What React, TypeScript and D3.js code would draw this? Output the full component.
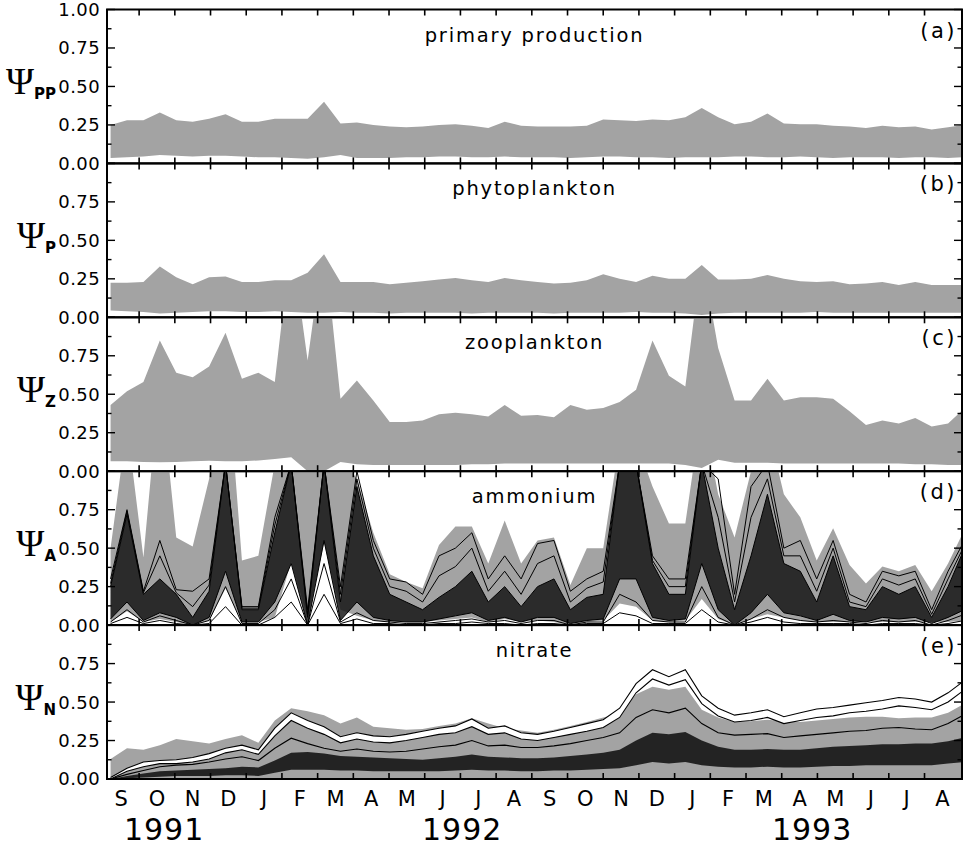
import React from 'react';
import * as d3 from 'd3';

// x axis: months Sep 1991 .. Aug 1993
const MONTHS = ['S', 'O', 'N', 'D', 'J', 'F', 'M', 'A', 'M', 'J', 'J', 'A', 'S', 'O', 'N', 'D', 'J', 'F', 'M', 'A', 'M', 'J', 'J', 'A'];
const YEARS = ['1991', '1992', '1993'];
const YEAR_AT = [1.7, 10.05, 19.85]; // month index under which the year sits

// fortnightly samples, expressed in months after 1 Sep 1991
const FIRST_SAMPLE = 0.2;
const SAMPLE_STEP = 0.46;

// (a) primary production, envelope
const ppHi = [0.25, 0.28, 0.28, 0.33, 0.28, 0.27, 0.29, 0.32, 0.27, 0.27, 0.29, 0.29, 0.29, 0.40, 0.26, 0.265, 0.25, 0.24, 0.235, 0.24, 0.25, 0.255, 0.245, 0.23, 0.27, 0.245, 0.24, 0.24, 0.24, 0.245, 0.285, 0.28, 0.275, 0.285, 0.28, 0.30, 0.36, 0.30, 0.255, 0.27, 0.325, 0.26, 0.255, 0.255, 0.245, 0.24, 0.23, 0.245, 0.235, 0.24, 0.22, 0.235, 0.25];
const ppLo = [0.035, 0.04, 0.045, 0.055, 0.05, 0.045, 0.05, 0.05, 0.045, 0.04, 0.04, 0.035, 0.03, 0.04, 0.055, 0.035, 0.035, 0.035, 0.04, 0.04, 0.045, 0.045, 0.04, 0.04, 0.045, 0.04, 0.04, 0.04, 0.035, 0.04, 0.045, 0.045, 0.04, 0.04, 0.035, 0.04, 0.04, 0.04, 0.045, 0.045, 0.04, 0.04, 0.045, 0.04, 0.035, 0.04, 0.04, 0.04, 0.035, 0.04, 0.04, 0.035, 0.04];

// (b) phytoplankton
const pHi = [0.225, 0.225, 0.23, 0.33, 0.26, 0.215, 0.26, 0.265, 0.23, 0.23, 0.24, 0.24, 0.29, 0.41, 0.23, 0.23, 0.23, 0.215, 0.225, 0.235, 0.245, 0.255, 0.24, 0.23, 0.255, 0.24, 0.23, 0.22, 0.225, 0.24, 0.28, 0.25, 0.23, 0.27, 0.25, 0.25, 0.34, 0.245, 0.245, 0.25, 0.275, 0.25, 0.235, 0.23, 0.235, 0.215, 0.22, 0.23, 0.21, 0.23, 0.21, 0.21, 0.21];
const pLo = [0.045, 0.04, 0.035, 0.025, 0.03, 0.035, 0.04, 0.04, 0.035, 0.035, 0.04, 0.035, 0.03, 0.03, 0.035, 0.03, 0.03, 0.025, 0.03, 0.03, 0.03, 0.03, 0.025, 0.03, 0.03, 0.03, 0.03, 0.025, 0.03, 0.03, 0.03, 0.03, 0.035, 0.03, 0.03, 0.025, 0.015, 0.025, 0.03, 0.03, 0.03, 0.03, 0.03, 0.035, 0.03, 0.03, 0.03, 0.03, 0.03, 0.03, 0.03, 0.03, 0.03];

// (c) zooplankton
const zHi = [0.43, 0.52, 0.58, 0.85, 0.64, 0.61, 0.68, 0.9, 0.60, 0.64, 0.58, 1.5, 0.72, 1.5, 0.47, 0.59, 0.46, 0.32, 0.32, 0.33, 0.37, 0.38, 0.37, 0.355, 0.43, 0.36, 0.365, 0.35, 0.43, 0.40, 0.41, 0.45, 0.53, 0.85, 0.62, 0.55, 1.4, 0.8, 0.46, 0.46, 0.60, 0.46, 0.48, 0.48, 0.47, 0.39, 0.30, 0.33, 0.31, 0.345, 0.29, 0.31, 0.41];
const zLo = [0.065, 0.065, 0.06, 0.058, 0.06, 0.065, 0.068, 0.065, 0.065, 0.07, 0.08, 0.09, 0.0, 0.0, 0.06, 0.045, 0.04, 0.04, 0.04, 0.04, 0.04, 0.04, 0.045, 0.045, 0.05, 0.05, 0.05, 0.05, 0.05, 0.05, 0.05, 0.05, 0.05, 0.05, 0.05, 0.04, 0.02, 0.075, 0.055, 0.055, 0.055, 0.05, 0.05, 0.05, 0.05, 0.05, 0.05, 0.05, 0.05, 0.045, 0.045, 0.04, 0.04];

// (d) ammonium: envelope, dense bundle of runs, single runs
const aHi = [0.50, 1.3, 0.44, 1.6, 0.57, 0.51, 0.95, 1.8, 0.42, 0.45, 1.05, 1.4, 1.1, 1.4, 1.1, 0.95, 0.6, 0.33, 0.28, 0.24, 0.52, 0.64, 0.64, 0.40, 0.68, 0.40, 0.55, 0.57, 0.26, 0.50, 0.50, 1.2, 1.2, 0.9, 0.66, 0.66, 1.4, 0.85, 0.57, 1.0, 1.3, 0.85, 0.70, 0.42, 0.63, 0.39, 0.27, 0.38, 0.35, 0.39, 0.22, 0.40, 0.62];
const aLo = [0.02, 0.09, 0.02, 0.04, 0.02, 0.0, 0.03, 0.24, 0.02, 0.02, 0.05, 0.41, 0.05, 0.53, 0.1, 0.06, 0.03, 0.02, 0.02, 0.02, 0.03, 0.04, 0.05, 0.02, 0.04, 0.02, 0.03, 0.02, 0.0, 0.02, 0.03, 0.14, 0.12, 0.03, 0.02, 0.03, 0.17, 0.04, 0.0, 0.04, 0.07, 0.05, 0.03, 0.02, 0.02, 0.02, 0.02, 0.02, 0.02, 0.02, 0.02, 0.02, 0.03];
const aBundleHi = [0.25, 0.72, 0.2, 0.3, 0.2, 0.05, 0.22, 1.05, 0.1, 0.1, 0.6, 1.05, 0.05, 1.05, 0.15, 0.9, 0.45, 0.2, 0.15, 0.1, 0.18, 0.25, 0.35, 0.15, 0.25, 0.12, 0.25, 0.3, 0.1, 0.18, 0.2, 1.05, 1.05, 0.4, 0.2, 0.2, 1.05, 0.5, 0.1, 0.45, 0.85, 0.4, 0.35, 0.15, 0.45, 0.12, 0.1, 0.25, 0.2, 0.25, 0.05, 0.25, 0.5];
const aBundleLo = [0.04, 0.15, 0.03, 0.08, 0.05, 0.0, 0.05, 0.35, 0.02, 0.02, 0.15, 0.4, 0.0, 0.55, 0.03, 0.15, 0.05, 0.03, 0.02, 0.02, 0.04, 0.06, 0.08, 0.03, 0.05, 0.02, 0.05, 0.05, 0.01, 0.03, 0.04, 0.3, 0.3, 0.05, 0.03, 0.04, 0.4, 0.1, 0.0, 0.08, 0.2, 0.08, 0.06, 0.03, 0.07, 0.03, 0.02, 0.05, 0.04, 0.05, 0.01, 0.05, 0.1];
const aRunHigh = [0.3, 0.75, 0.22, 0.55, 0.23, 0.22, 0.3, 1.05, 0.12, 0.12, 0.7, 1.05, 0.1, 1.05, 0.25, 1.0, 0.55, 0.3, 0.28, 0.2, 0.45, 0.5, 0.6, 0.3, 0.45, 0.3, 0.53, 0.55, 0.22, 0.3, 0.35, 1.05, 1.05, 0.45, 0.3, 0.3, 1.05, 0.95, 0.2, 0.9, 1.05, 0.5, 0.55, 0.3, 0.55, 0.2, 0.15, 0.35, 0.32, 0.35, 0.1, 0.35, 0.55];
const aRunMid = [0.27, 0.74, 0.21, 0.45, 0.21, 0.12, 0.26, 1.05, 0.11, 0.11, 0.65, 1.05, 0.07, 1.05, 0.2, 0.95, 0.5, 0.25, 0.22, 0.15, 0.32, 0.38, 0.5, 0.22, 0.35, 0.2, 0.4, 0.45, 0.15, 0.24, 0.28, 1.05, 1.05, 0.42, 0.25, 0.25, 1.05, 0.7, 0.15, 0.7, 0.95, 0.45, 0.45, 0.22, 0.5, 0.15, 0.12, 0.3, 0.26, 0.3, 0.07, 0.3, 0.52];
const aRunLowA = [0.02, 0.1, 0.02, 0.06, 0.03, 0.0, 0.03, 0.25, 0.01, 0.01, 0.1, 0.3, 0.0, 0.4, 0.02, 0.08, 0.03, 0.02, 0.01, 0.01, 0.02, 0.03, 0.04, 0.02, 0.03, 0.01, 0.03, 0.03, 0.0, 0.02, 0.02, 0.2, 0.15, 0.03, 0.02, 0.02, 0.25, 0.05, 0.0, 0.04, 0.1, 0.05, 0.03, 0.02, 0.03, 0.02, 0.01, 0.03, 0.02, 0.03, 0.0, 0.03, 0.07];
const aRunLowB = [0.01, 0.05, 0.01, 0.03, 0.01, 0.0, 0.01, 0.12, 0.0, 0.0, 0.05, 0.15, 0.0, 0.2, 0.01, 0.04, 0.01, 0.01, 0.0, 0.0, 0.01, 0.01, 0.02, 0.01, 0.01, 0.0, 0.01, 0.01, 0.0, 0.01, 0.01, 0.08, 0.06, 0.01, 0.01, 0.01, 0.1, 0.02, 0.0, 0.02, 0.05, 0.02, 0.01, 0.01, 0.01, 0.01, 0.0, 0.01, 0.01, 0.01, 0.0, 0.01, 0.03];

// (e) nitrate
const nHi = [0.13, 0.2, 0.19, 0.22, 0.26, 0.245, 0.23, 0.26, 0.285, 0.235, 0.38, 0.46, 0.44, 0.415, 0.36, 0.40, 0.34, 0.33, 0.32, 0.325, 0.345, 0.36, 0.395, 0.36, 0.33, 0.315, 0.30, 0.32, 0.345, 0.37, 0.40, 0.425, 0.55, 0.60, 0.58, 0.60, 0.45, 0.40, 0.37, 0.375, 0.385, 0.375, 0.37, 0.38, 0.39, 0.40, 0.405, 0.405, 0.395, 0.40, 0.40, 0.43, 0.49];
const nLo = [0, 0, 0, 0, 0, 0, 0, 0, 0, 0, 0, 0, 0, 0, 0, 0, 0, 0, 0, 0, 0, 0, 0, 0, 0, 0, 0, 0, 0, 0, 0, 0, 0, 0, 0, 0, 0, 0, 0, 0, 0, 0, 0, 0, 0, 0, 0, 0, 0, 0, 0, 0, 0];
const nRunTop = [0.01, 0.07, 0.11, 0.12, 0.125, 0.14, 0.165, 0.2, 0.22, 0.19, 0.33, 0.43, 0.38, 0.34, 0.275, 0.30, 0.28, 0.275, 0.29, 0.31, 0.33, 0.345, 0.39, 0.33, 0.345, 0.30, 0.29, 0.31, 0.335, 0.36, 0.385, 0.46, 0.62, 0.71, 0.665, 0.71, 0.54, 0.46, 0.415, 0.43, 0.45, 0.405, 0.43, 0.455, 0.465, 0.48, 0.495, 0.51, 0.53, 0.52, 0.50, 0.56, 0.64];
const nRunSecond = [0.0, 0.05, 0.08, 0.1, 0.1, 0.11, 0.13, 0.17, 0.19, 0.16, 0.28, 0.38, 0.33, 0.29, 0.235, 0.26, 0.24, 0.235, 0.25, 0.27, 0.29, 0.3, 0.34, 0.29, 0.3, 0.26, 0.25, 0.27, 0.29, 0.31, 0.335, 0.4, 0.56, 0.65, 0.61, 0.645, 0.49, 0.41, 0.37, 0.38, 0.4, 0.36, 0.38, 0.4, 0.41, 0.43, 0.44, 0.455, 0.475, 0.465, 0.45, 0.5, 0.58];
const nRunMid = [0.0, 0.03, 0.055, 0.08, 0.09, 0.095, 0.11, 0.13, 0.145, 0.12, 0.2, 0.265, 0.23, 0.2, 0.18, 0.195, 0.18, 0.175, 0.18, 0.195, 0.21, 0.22, 0.25, 0.215, 0.22, 0.205, 0.205, 0.215, 0.23, 0.25, 0.27, 0.3, 0.4, 0.45, 0.43, 0.46, 0.36, 0.3, 0.285, 0.29, 0.295, 0.27, 0.28, 0.29, 0.3, 0.31, 0.315, 0.33, 0.335, 0.325, 0.32, 0.36, 0.42];
const nBundleHi = [0.0, 0.02, 0.035, 0.05, 0.055, 0.06, 0.065, 0.07, 0.08, 0.075, 0.12, 0.17, 0.175, 0.165, 0.15, 0.145, 0.14, 0.135, 0.13, 0.125, 0.135, 0.145, 0.16, 0.145, 0.14, 0.135, 0.135, 0.14, 0.15, 0.16, 0.17, 0.19, 0.25, 0.3, 0.29, 0.305, 0.25, 0.21, 0.19, 0.19, 0.195, 0.19, 0.19, 0.2, 0.21, 0.215, 0.22, 0.225, 0.225, 0.23, 0.23, 0.245, 0.27];
const nBundleLo = [0, 0.005, 0.01, 0.015, 0.02, 0.02, 0.02, 0.025, 0.025, 0.02, 0.04, 0.06, 0.06, 0.06, 0.055, 0.055, 0.05, 0.05, 0.05, 0.05, 0.05, 0.055, 0.06, 0.055, 0.055, 0.05, 0.05, 0.055, 0.055, 0.06, 0.065, 0.07, 0.09, 0.11, 0.1, 0.11, 0.09, 0.08, 0.075, 0.075, 0.08, 0.075, 0.075, 0.08, 0.085, 0.085, 0.09, 0.09, 0.09, 0.09, 0.09, 0.1, 0.11];

const W = 969;
const H = 847;
const LEFT = 107;
const RIGHT = 962;
const TOP = 9.5;
const PANEL_H = 153.9;
const GREY = '#a3a3a3';

const x = d3.scaleLinear().domain([0.1, 24.05]).range([LEFT, RIGHT]);
const sampleT = ppHi.map((_, i) => FIRST_SAMPLE + SAMPLE_STEP * i);

const panels = [
  { id: 'a', title: 'primary production', sub: 'PP', hi: ppHi, lo: ppLo },
  { id: 'b', title: 'phytoplankton', sub: 'P', hi: pHi, lo: pLo },
  { id: 'c', title: 'zooplankton', sub: 'Z', hi: zHi, lo: zLo },
  { id: 'd', title: 'ammonium', sub: 'A', hi: aHi, lo: aLo },
  { id: 'e', title: 'nitrate', sub: 'N', hi: nHi, lo: nLo },
];

const yTicks = d3.range(0, 9).map((k) => k * 0.125);
const monthTicks = d3.range(1, 24);

const App: React.FC = () => {
  return (
    <svg width={W} height={H} style={{ position: 'absolute', left: 0, top: 0, background: '#fff' }} fontFamily="DejaVu Sans">
      <defs>
        {panels.map((p, k) => (
          <clipPath id={`clip-${p.id}`} key={p.id}>
            <rect x={LEFT} y={TOP + k * PANEL_H} width={RIGHT - LEFT} height={PANEL_H} />
          </clipPath>
        ))}
      </defs>

      {panels.map((p, k) => {
        const top = TOP + k * PANEL_H;
        const y = d3.scaleLinear().domain([0, 1]).range([top + PANEL_H, top]);
        const band = (lo: number[], hi: number[]) =>
          d3.area<number>().x((_, i) => x(sampleT[i])).y0((_, i) => y(lo[i])).y1((d) => y(d))(hi) || '';
        const line = (v: number[]) => d3.line<number>().x((_, i) => x(sampleT[i])).y((d) => y(d))(v) || '';

        return (
          <g key={p.id}>
            <g clipPath={`url(#clip-${p.id})`}>
              <path d={band(p.lo, p.hi)} fill={GREY} />
              {p.id === 'd' && (
                <g>
                  <path d={band(aBundleLo, aBundleHi)} fill="#111" fillOpacity={0.82} />
                  {[aRunHigh, aRunMid, aBundleHi, aBundleLo, aRunLowA, aRunLowB].map((v, j) => (
                    <path key={j} d={line(v)} fill="none" stroke="#000" strokeWidth={1} />
                  ))}
                </g>
              )}
              {p.id === 'e' && (
                <g>
                  <path d={band(nBundleLo, nBundleHi)} fill="#111" fillOpacity={0.88} />
                  <path d={line(nRunMid)} fill="none" stroke="#000" strokeWidth={1.1} />
                  <path d={band(nRunSecond, nRunTop)} fill="#fff" />
                  <path d={line(nRunTop)} fill="none" stroke="#000" strokeWidth={1.1} />
                  <path d={line(nRunSecond)} fill="none" stroke="#000" strokeWidth={1.1} />
                </g>
              )}
            </g>

            {/* frame */}
            <rect x={LEFT} y={top} width={RIGHT - LEFT} height={PANEL_H} fill="none" stroke="#000" strokeWidth={2} />

            {/* month ticks, top and bottom, inward */}
            {monthTicks.map((m) => (
              <g key={m}>
                <line x1={x(m)} x2={x(m)} y1={top} y2={top + 6} stroke="#000" strokeWidth={1.6} />
                <line x1={x(m)} x2={x(m)} y1={top + PANEL_H} y2={top + PANEL_H - 6} stroke="#000" strokeWidth={1.6} />
              </g>
            ))}

            {/* y ticks both sides */}
            {yTicks.map((t, j) => {
              const len = j % 2 === 0 ? 8 : 4.5;
              return (
                <g key={t}>
                  <line x1={LEFT} x2={LEFT + len} y1={y(t)} y2={y(t)} stroke="#000" strokeWidth={1.4} />
                  <line x1={RIGHT} x2={RIGHT - len} y1={y(t)} y2={y(t)} stroke="#000" strokeWidth={1.4} />
                </g>
              );
            })}

            {/* y tick labels */}
            {yTicks
              .filter((t, j) => j % 2 === 0 && (k === 0 || t < 1))
              .map((t) => (
                <text key={t} x={100} y={y(t)} dy="0.36em" textAnchor="end" fontSize={18} letterSpacing={0.4}>
                  {t.toFixed(2)}
                </text>
              ))}

            {/* Psi label */}
            <text x={56} y={y(0.5) + 8} textAnchor="end">
              <tspan fontFamily="Liberation Serif" fontSize={38}>Ψ</tspan>
              <tspan fontSize={15} fontWeight="bold" dy={5}>{p.sub}</tspan>
            </text>

            {/* title and panel letter */}
            <text x={(LEFT + RIGHT) / 2} y={top + 32} textAnchor="middle" fontSize={19.5} letterSpacing={1.8}>
              {p.title}
            </text>
            <text x={957} y={top + 28} textAnchor="end" fontSize={21} letterSpacing={2.5}>
              {`(${p.id})`}
            </text>
          </g>
        );
      })}

      {/* month labels */}
      {MONTHS.map((m, i) => (
        <text key={i} x={x(i + 0.5)} y={805.5} textAnchor="middle" fontSize={21}>
          {m}
        </text>
      ))}
      {YEARS.map((yr, i) => (
        <text key={yr} x={x(YEAR_AT[i])} y={840} textAnchor="middle" fontSize={30} letterSpacing={1}>
          {yr}
        </text>
      ))}
    </svg>
  );
};

export default App;
